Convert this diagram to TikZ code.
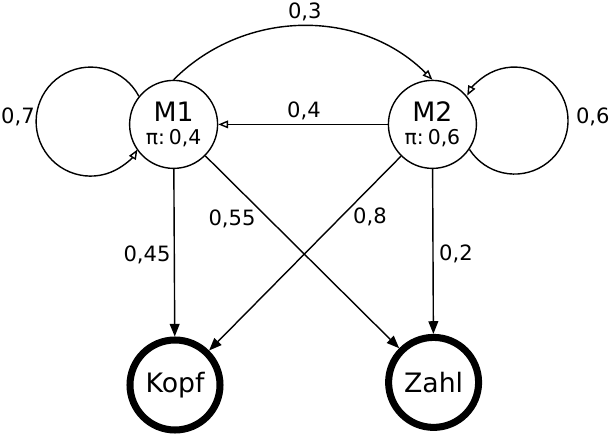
\documentclass[tikz,border=0pt]{standalone}
\usepackage{fontspec}
\setmainfont{DejaVu Sans}
\usetikzlibrary{arrows.meta,positioning}
\tikzstyle{state} = [circle, draw, line width=1pt, minimum size=2.2cm, inner sep=0pt, align=center, font=\fontsize{19}{19}\selectfont]
\tikzstyle{final} = [state, line width=5pt, minimum size=2.25cm]
\tikzstyle{prob} = [inner sep=0pt, font=\fontsize{15}{17}\selectfont]
\tikzstyle{arrowo} = [line width=1pt, -{Triangle[open, length=7pt, width=5.5pt]}]
\tikzstyle{arrowf} = [line width=1pt, -{Triangle[length=9pt, width=7pt]}]
\newcommand{\startp}[1]{{\fontsize{14.5}{14.5}\selectfont π:\hspace{0.2em}#1}}

\begin{document}
\begin{tikzpicture}
\useasboundingbox (0,0) rectangle (15.275,10.85);

% hidden states
\node[state] (m1) at (4.34,7.74) {M1\\[-3pt]\startp{0,4}};
\node[state] (m2) at (10.81,7.74) {M2\\[-3pt]\startp{0,6}};

% observations
\node[final] (kopf) at (4.375,1.225) {Kopf};
\node[final] (zahl) at (10.84,1.29) {Zahl};

% transitions
\draw[arrowo] (m1.north) to[out=45, in=135] (m2.north);
\draw[arrowo] (m2) -- (m1);
\draw[arrowo] (m1.141) arc[start angle=27.7, end angle=329.2, radius=1.3625cm];
\draw[arrowo] (m2.-34) arc[start angle=-147.4, end angle=152.2, radius=1.3375cm];

% emissions
\draw[arrowf] (m1) -- (kopf);
\draw[arrowf] (m1) -- (zahl);
\draw[arrowf] (m2) -- (kopf);
\draw[arrowf] (m2) -- (zahl);

% probabilities
\node[prob] (p03) at (7.62,10.55) {0,3};
\node[prob] (p04) at (7.6,8.075) {0,4};
\node[prob] (p07) at (0.45,7.93) {0,7};
\node[prob] (p06) at (14.82,7.93) {0,6};
\node[prob] (p055) at (5.8,5.375) {0,55};
\node[prob] (p08) at (9.25,5.425) {0,8};
\node[prob] (p045) at (3.675,4.475) {0,45};
\node[prob] (p02) at (11.4,4.5) {0,2};
\end{tikzpicture}
\end{document}
